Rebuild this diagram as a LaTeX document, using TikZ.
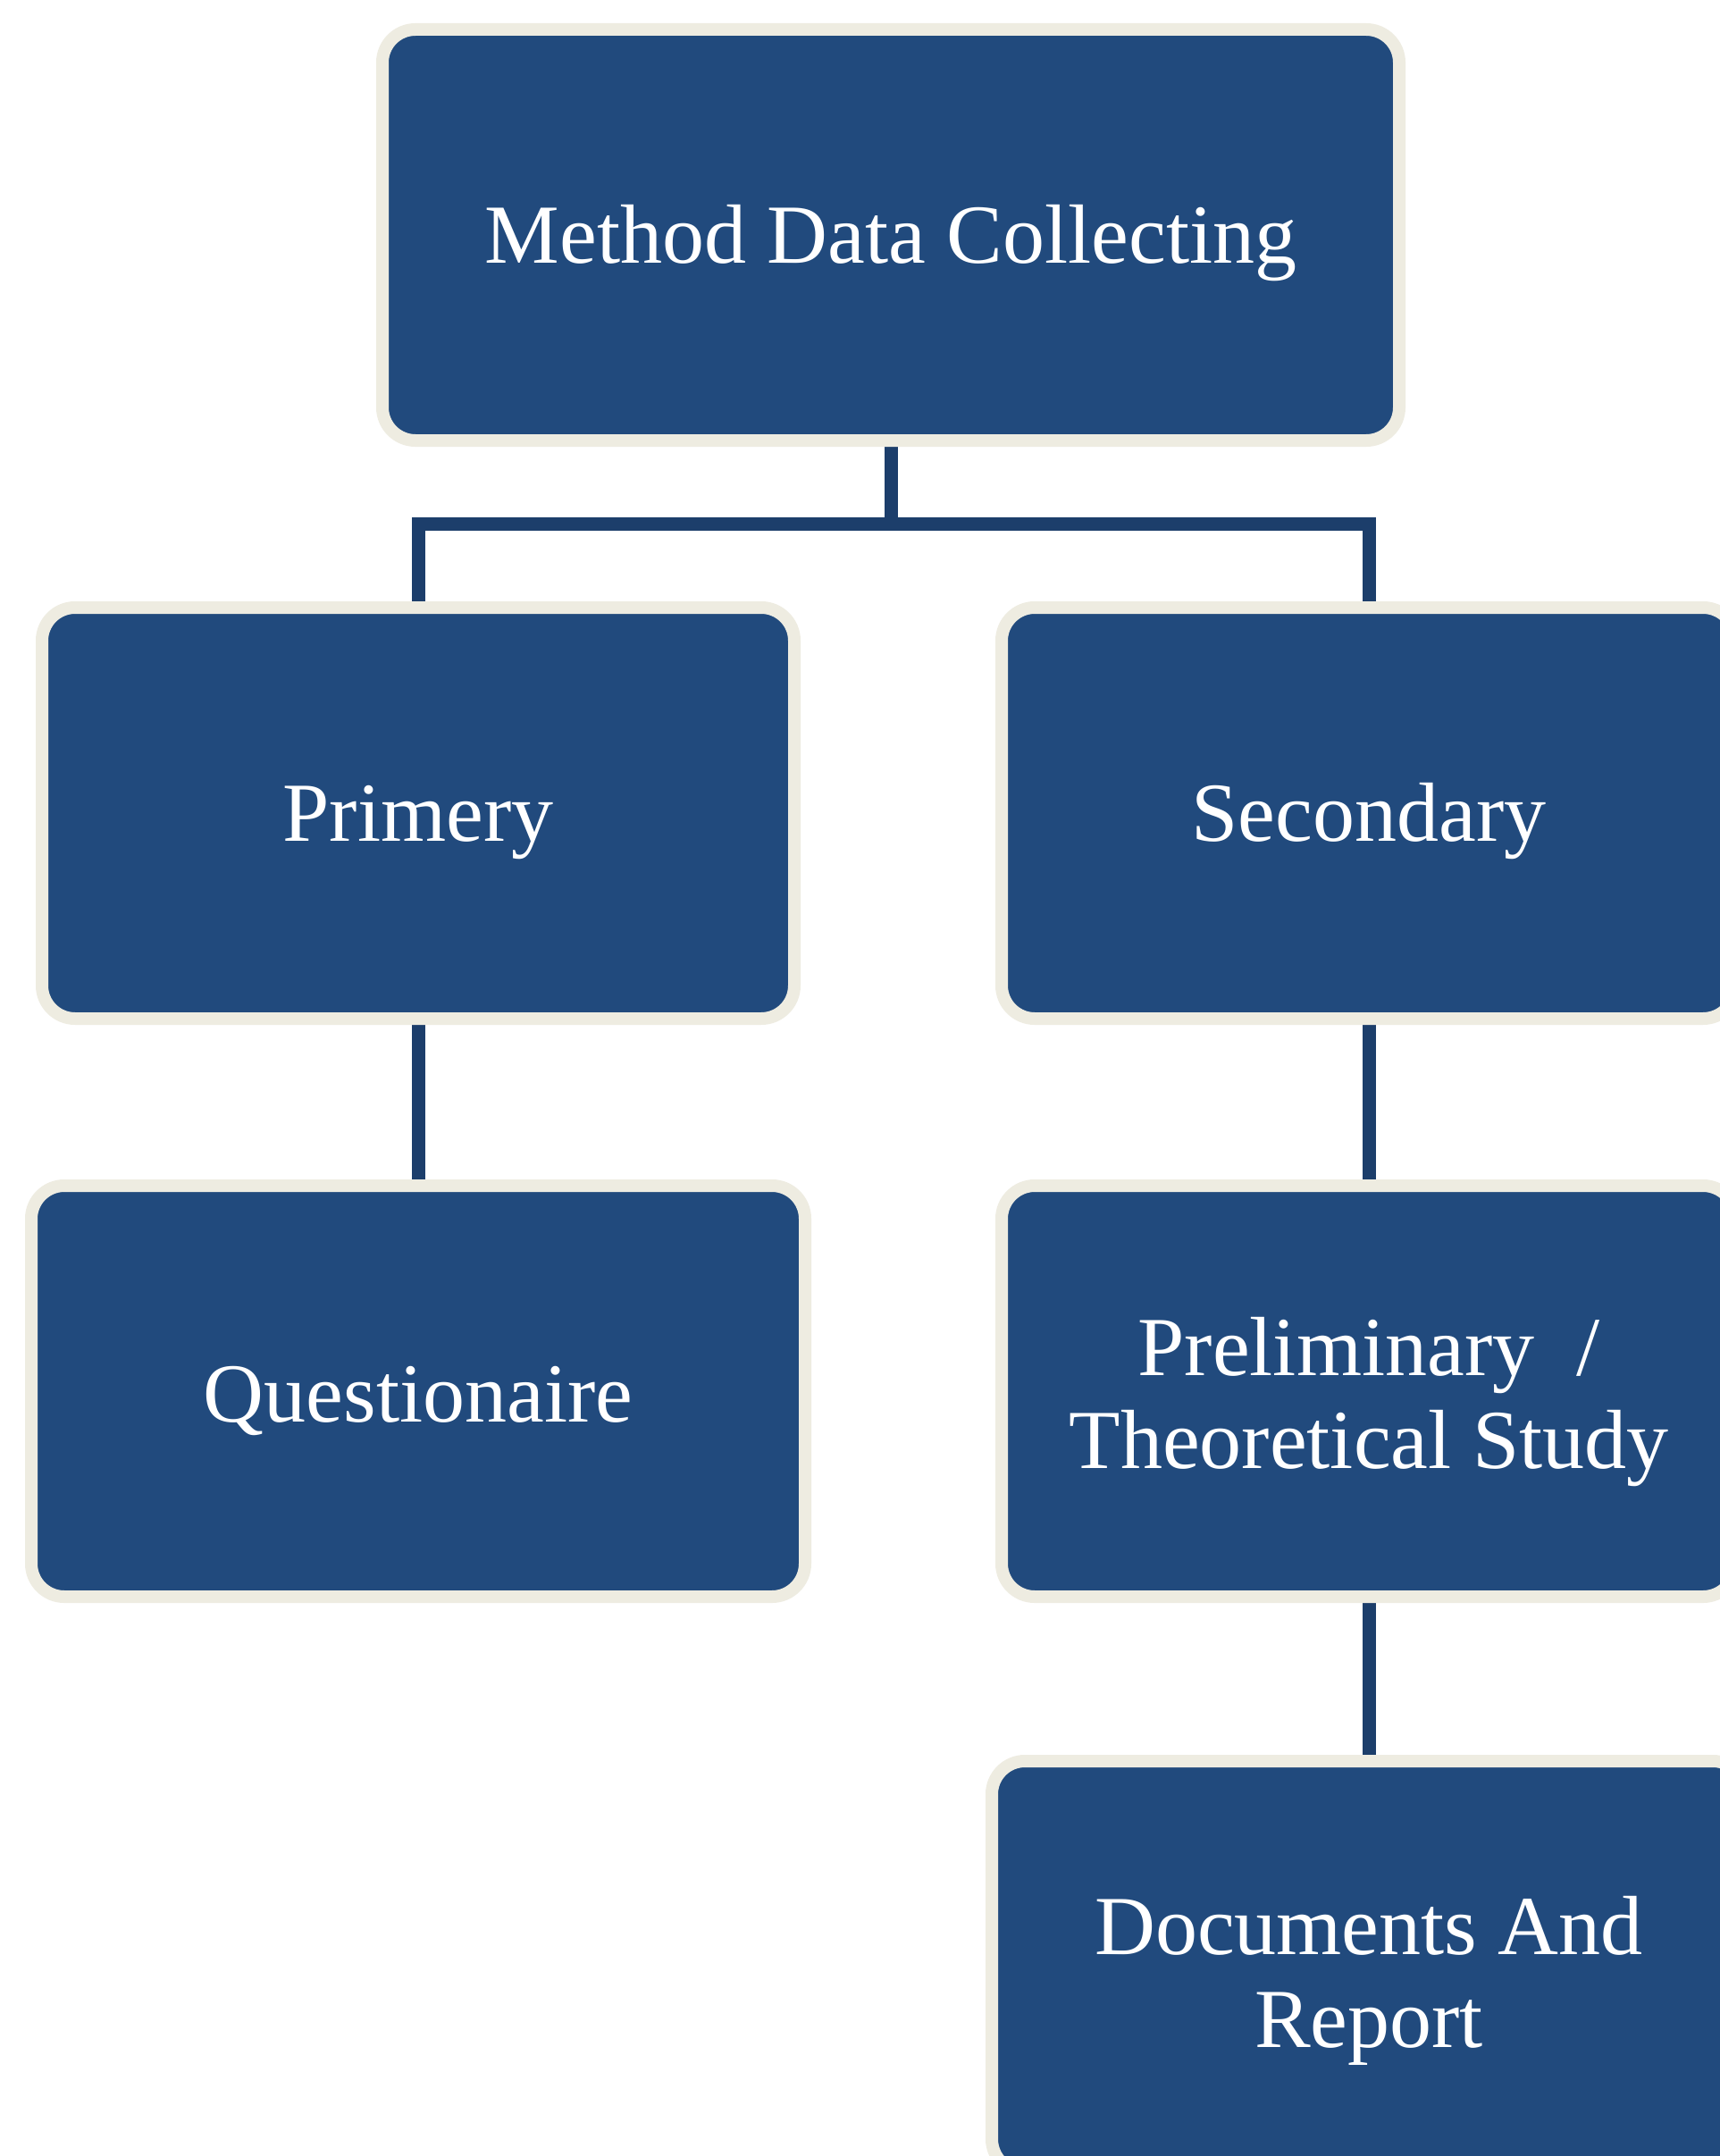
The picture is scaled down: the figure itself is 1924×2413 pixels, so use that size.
\documentclass[tikz,border=0pt]{standalone}
\usepackage{fontspec}
\setmainfont{Liberation Serif}
\usetikzlibrary{backgrounds}
\definecolor{boxblue}{HTML}{214A7D}
\definecolor{rimgray}{HTML}{EEECE1}
\definecolor{linkblue}{HTML}{1C3E6B}
\begin{document}
\begin{tikzpicture}[x=0.5pt,y=-0.5pt,
  box/.style={rectangle, rounded corners=18.5pt, fill=boxblue, draw=rimgray,
    line width=7pt, text=white, font=\fontsize{47}{52}\selectfont,
    align=center, inner sep=0pt, minimum height=230pt},
  link/.style={draw=linkblue, line width=7.5pt, line join=miter}]
\useasboundingbox (0,0) rectangle (1924,2413);
\node[box, minimum width=569pt] (top) at (997,263) {\rule{0pt}{42pt}Method Data Collecting};
\node[box, minimum width=421pt] (prim) at (468,910) {\rule{0pt}{42pt}Primery};
\node[box, minimum width=411pt] (sec) at (1532,910) {\rule{0pt}{42pt}Secondary};
\node[box, minimum width=433pt] (ques) at (468,1557) {\rule{0pt}{42pt}Questionaire};
\node[box, minimum width=411pt] (prel) at (1532,1557) {\rule{0pt}{45pt}Preliminary \ /\\Theoretical Study};
\node[box, minimum width=422pt] (docs) at (1532,2201) {\rule{0pt}{48pt}Documents And\\Report};
\coordinate (bus) at (997,586);
\begin{scope}[on background layer]
  \fill[white] (0,0) rectangle (1924,2413);
  \draw[link] (top.south) -- (bus);
  \draw[link] (prim.north) |- (bus) -| (sec.north);
  \draw[link] (prim.south) -- (ques.north);
  \draw[link] (sec.south) -- (prel.north);
  \draw[link] (prel.south) -- (docs.north);
\end{scope}
\end{tikzpicture}
\end{document}
